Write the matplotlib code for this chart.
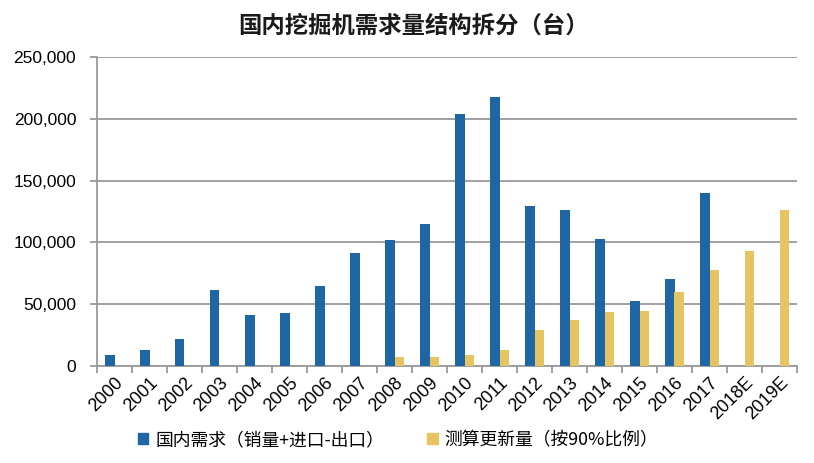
import matplotlib
matplotlib.use("Agg")
import matplotlib.pyplot as plt
import numpy as np
from matplotlib.ticker import FuncFormatter, FixedLocator
from matplotlib.patches import Patch

categories = ["2000", "2001", "2002", "2003", "2004", "2005", "2006", "2007", "2008", "2009",
              "2010", "2011", "2012", "2013", "2014", "2015", "2016", "2017", "2018E", "2019E"]
domestic = [8700, 13300, 22000, 61400, 41300, 42700, 64600, 91200, 102300, 114800,
            203500, 217300, 129700, 126500, 102700, 52700, 70000, 140300, np.nan, np.nan]
replacement = [np.nan, np.nan, np.nan, np.nan, np.nan, np.nan, np.nan, np.nan, 7300, 7300,
               8800, 13000, 28900, 37300, 43500, 44300, 59700, 77800, 93000, 126500]
yticks = [0, 50000, 100000, 150000, 200000, 250000]
title = "国内挖掘机需求量结构拆分（台）"
label_dom = "国内需求（销量+进口-出口）"
label_rep = "测算更新量（按90%比例）"

blue = "#1F66A5"
yellow = "#E5C461"
gray = "#9A9A9A"

plt.rcParams['font.family'] = ['Liberation Sans', 'Noto Sans CJK SC', 'DejaVu Sans']

fig = plt.figure(figsize=(8.14, 4.63), dpi=100)
ax = fig.add_axes([97/814, 1-366/463, 700/814, 309/463])

x = np.arange(len(categories))
w = 0.285
ax.bar(x - w/2, domestic, width=w, color=blue, zorder=3)
ax.bar(x + w/2, replacement, width=w, color=yellow, zorder=3)

ax.set_xlim(-0.5, len(categories) - 0.5)
ax.set_ylim(0, 250000)
ax.set_yticks(yticks)
ax.yaxis.set_major_formatter(FuncFormatter(lambda v, p: f"{int(v):,}"))
ax.grid(axis='y', color=gray, linewidth=1.3, zorder=0)

ax.set_xticks(x)
ax.set_xticklabels(categories, rotation=45, ha='right', va='top', rotation_mode='anchor', fontsize=13)
ax.xaxis.set_minor_locator(FixedLocator(np.arange(-0.5, len(categories), 1)))
ax.tick_params(axis='x', which='major', length=0, pad=6)
ax.tick_params(axis='x', which='minor', length=5, color=gray, width=1.3)
ax.tick_params(axis='y', length=5, color=gray, width=1.3, labelsize=12.5, pad=10)

for s in ['top', 'right']:
    ax.spines[s].set_visible(False)
for s in ['left', 'bottom']:
    ax.spines[s].set_color(gray)
    ax.spines[s].set_linewidth(1.3)

fig.text(0.508, 1-26/463, title, ha='center', va='center', fontsize=16.8, fontweight='bold',
         family=['Noto Sans CJK SC', 'DejaVu Sans'], color='#1a1a1a')

handles = [Patch(color=blue, label=label_dom), Patch(color=yellow, label=label_rep)]
leg = fig.legend(handles=handles, loc='center', bbox_to_anchor=(0.489, 1-440/463), ncol=2,
                 frameon=False, handlelength=0.6, handleheight=0.6, handletextpad=0.4,
                 columnspacing=2.4, prop={'family': ['Noto Sans CJK SC', 'DejaVu Sans'], 'size': 12.8})

fig.savefig("out.png", dpi=100)
